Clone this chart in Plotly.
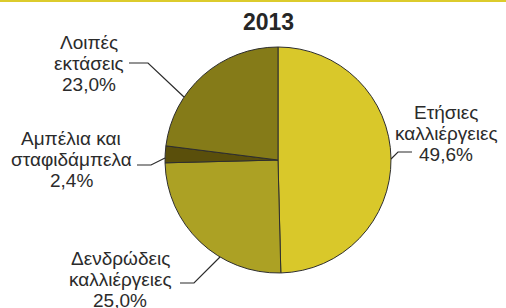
import plotly.graph_objects as go

# Data
categories = ["Ετήσιες<br>καλλιέργειες", "Δενδρώδεις<br>καλλιέργειες",
              "Αμπέλια και<br>σταφιδάμπελα", "Λοιπές<br>εκτάσεις"]
values = [49.6, 25.0, 2.4, 23.0]
value_labels = ["49,6%", "25,0%", "2,4%", "23,0%"]
colors = ["#d9c82a", "#aca124", "#5a4f0b", "#857b18"]
title_text = "2013"

W, H = 506, 308
def px(x):
    return x / W
def py(y):
    return 1 - y / H

# pie geometry (pixels)
cx, cy, r = 278, 160, 113

fig = go.Figure(go.Pie(
    labels=categories, values=values, sort=False, direction="clockwise",
    rotation=0, textinfo="none", hoverinfo="label+percent",
    marker=dict(colors=colors, line=dict(color="#2e2e2e", width=1)),
    domain=dict(x=[px(cx - r), px(cx + r)], y=[py(cy + r), py(cy - r)]),
    showlegend=False,
))

# label layout (style): center x, first line y, leader path
label_pos = [
    (446, 112, [(412, 152), (398, 152), (391, 159)]),
    (120, 258, [(180, 283), (194, 283), (220, 257)]),
    (71, 138, [(137, 165), (151, 165), (165, 158)]),
    (89, 42, [(129, 63), (148, 63), (184, 97)]),
]
line_gap = 21.3

annotations = []
shapes = []
for cat, vl, (lx, ly, path) in zip(categories, value_labels, label_pos):
    lines = cat.split("<br>") + [vl]
    for i, t in enumerate(lines):
        annotations.append(dict(
            x=px(lx), y=py(ly + i * line_gap), xref="paper", yref="paper",
            text=t, showarrow=False, xanchor="center", yanchor="middle",
            font=dict(family="Liberation Sans, Arial, sans-serif", size=19, color="#2b2b2b"),
        ))
    d = "M " + " L ".join(f"{px(x)},{py(y)}" for x, y in path)
    shapes.append(dict(type="path", path=d, xref="paper", yref="paper",
                       line=dict(color="#2b2b2b", width=1.2)))

annotations.append(dict(
    x=px(268), y=py(22), xref="paper", yref="paper", text="<b>" + title_text + "</b>",
    showarrow=False, xanchor="center", yanchor="middle",
    font=dict(family="Liberation Sans, Arial, sans-serif", size=23, color="#262626"),
))

# top yellow rule
shapes.append(dict(type="line", x0=0, x1=1, y0=py(1), y1=py(1), xref="paper", yref="paper",
                   line=dict(color="#dccb2c", width=2)))

fig.update_layout(
    width=W, height=H, margin=dict(l=0, r=0, t=0, b=0),
    paper_bgcolor="white", plot_bgcolor="white",
    annotations=annotations, shapes=shapes,
)

fig.write_html("out.html", config={"displayModeBar": False},
               post_script="document.body.style.margin='0';document.body.style.overflow='hidden';")
